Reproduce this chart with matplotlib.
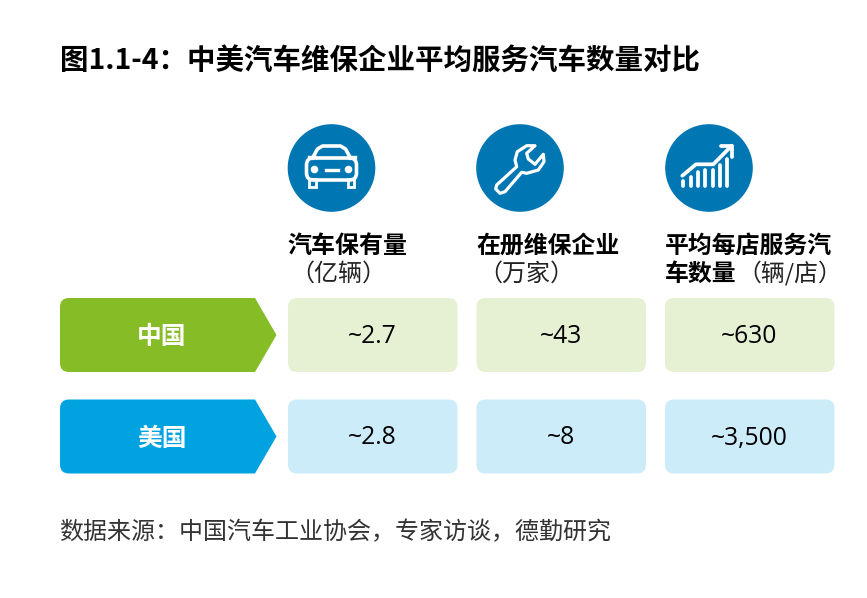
import matplotlib
matplotlib.use("Agg")
import matplotlib.pyplot as plt
from matplotlib.patches import Circle, FancyBboxPatch, PathPatch, Polygon, Rectangle
from matplotlib.path import Path

plt.rcParams['font.family'] = ['Noto Sans CJK SC', 'DejaVu Sans']

title = "图1.1-4：中美汽车维保企业平均服务汽车数量对比"
source = "数据来源：中国汽车工业协会，专家访谈，德勤研究"
countries = ["中国", "美国"]
china_values = ["~2.7", "~43", "~630"]
usa_values = ["~2.8", "~8", "~3,500"]
bar_heights = [5.7, 10, 15, 16.7, 16.7, 21.7, 27.7]

NAVY = "#0076B3"
fig = plt.figure(figsize=(8.67, 5.98), dpi=100)
ax = fig.add_axes([0, 0, 1, 1])
ax.set_xlim(0, 867)
ax.set_ylim(598, 0)
ax.axis("off")

ax.text(60, 61.5, title, fontsize=20.5, fontweight="bold", color="#000000", va="center", ha="left")

col_x = [288, 476.5, 665]
card_w = 169.5
row_y = [298, 399.5]
row_h = 74
pale = ["#E6F1D4", "#CCECF9"]
strong = ["#86BC25", "#00A3E0"]
rows = [china_values, usa_values]


def rbox(x, y, w, h, color, r=9):
    ax.add_patch(FancyBboxPatch((x + r, y + r), w - 2 * r, h - 2 * r,
                                boxstyle=f"round,pad={r},rounding_size={r}",
                                fc=color, ec="none"))


for i, (y, name) in enumerate(zip(row_y, countries)):
    r = 9
    verts = [(60 + r, y), (255, y), (276.5, y + row_h / 2), (255, y + row_h), (60 + r, y + row_h),
             (60, y + row_h), (60, y + row_h - r), (60, y + r), (60, y), (60 + r, y), (60 + r, y)]
    codes = [Path.MOVETO, Path.LINETO, Path.LINETO, Path.LINETO, Path.LINETO,
             Path.CURVE3, Path.CURVE3, Path.LINETO, Path.CURVE3, Path.CURVE3, Path.CLOSEPOLY]
    ax.add_patch(PathPatch(Path(verts, codes), fc=strong[i], ec="none"))
    ax.text(162, y + row_h / 2 + 2.5, name, fontsize=17.8, fontweight="bold", color="white",
            ha="center", va="center")
    for x, val in zip(col_x, rows[i]):
        rbox(x, y, card_w, row_h, pale[i])
        ax.text(x + card_w / 2 - 0.5, y + row_h / 2 + 1.5, val, fontsize=17.7, color="#000000",
                ha="center", va="center", family=["Open Sans", "DejaVu Sans"])

# header text
ax.text(287, 245.5, "汽车保有量", fontsize=17.3, fontweight="bold", va="center", color="black")
ax.text(290, 273.5, "（亿辆）", fontsize=17.3, va="center", ha="left", color="#222222")
ax.text(476, 245.5, "在册维保企业", fontsize=17.2, fontweight="bold", va="center", color="black")
ax.text(478, 273.5, "（万家）", fontsize=17.3, va="center", ha="left", color="#222222")
ax.text(665, 245.5, "平均每店服务汽", fontsize=17.2, fontweight="bold", va="center", color="black")
ax.text(665, 273.5, "车数量", fontsize=17.2, fontweight="bold", va="center", color="black")
ax.text(737, 273.5, "（辆/店）", fontsize=17.2, va="center", ha="left", color="#222222")

# icon circles
cy = 168
for cx in (331.5, 520, 709):
    ax.add_patch(Circle((cx, cy), 43.8, fc=NAVY, ec="none"))

# car icon
W = "white"
cx = 331.5
ax.add_patch(FancyBboxPatch((cx - 19, cy - 4), 38, 10, boxstyle="round,pad=6,rounding_size=7",
                            fc="none", ec=W, lw=2.6))
roof = [(-19, -10), (-14, -19), (-9, -22), (9, -22), (14, -19), (19, -10)]
ax.plot([cx + a for a, b in roof], [cy + b for a, b in roof], color=W, lw=2.6, solid_joinstyle="round")
ax.plot([cx - 23, cx - 17], [cy - 11, cy - 11], color=W, lw=2.4)
ax.plot([cx + 17, cx + 23], [cy - 11, cy - 11], color=W, lw=2.4)
for dx in (-17, 17):
    ax.add_patch(Circle((cx + dx, cy + 1.5), 3.8, fc=W, ec="none"))
ax.plot([cx - 6, cx + 6], [cy + 1.5, cy + 1.5], color=W, lw=2.4)
for a in (-22.5, 16):
    ax.add_patch(Rectangle((cx + a, cy + 11), 6.5, 8, fc="none", ec=W, lw=2.0))

# wrench icon
cx = 520
ws = [(-23.3, 17), (-3.3, -1.3), (-5, -8), (-2.7, -16.3), (6.7, -22.3), (15, -22.3), (6.7, -14.7), (8.3, -9),
      (15, -3.7), (23.3, -13.7), (24, -6.3), (18.3, 2), (6.7, 5.3), (1.7, 4.3), (-15, 23.7), (-20, 25.3),
      (-24.3, 21)]
ax.add_patch(Polygon([(cx + a, cy + b) for a, b in ws], closed=True, fc="none", ec=W, lw=2.3, joinstyle="round"))

# growth icon
cx = 709
bar_x = [-25.7, -18.3, -11.3, -4, 3.7, 11, 18.3]
for dx, h in zip(bar_x, bar_heights):
    ax.plot([cx + dx] * 2, [cy + 18, cy + 18 - h + 1], color=W, lw=2.7, solid_capstyle="round")
ax.plot([cx - 26.7, cx - 13, cx + 4.3, cx + 22.7], [cy + 7.7, cy - 3.7, cy - 3.7, cy - 22.3], color=W, lw=2.7,
        solid_capstyle="round", solid_joinstyle="round")
ax.plot([cx + 11.7, cx + 22.7, cx + 22.7], [cy - 22.3, cy - 22.3, cy - 11.3], color=W, lw=2.7,
        solid_capstyle="round", solid_joinstyle="round")

ax.text(59.5, 533, source, fontsize=17.27, color="#333333", va="center", ha="left")

fig.savefig("out.png", dpi=100, facecolor="white")
